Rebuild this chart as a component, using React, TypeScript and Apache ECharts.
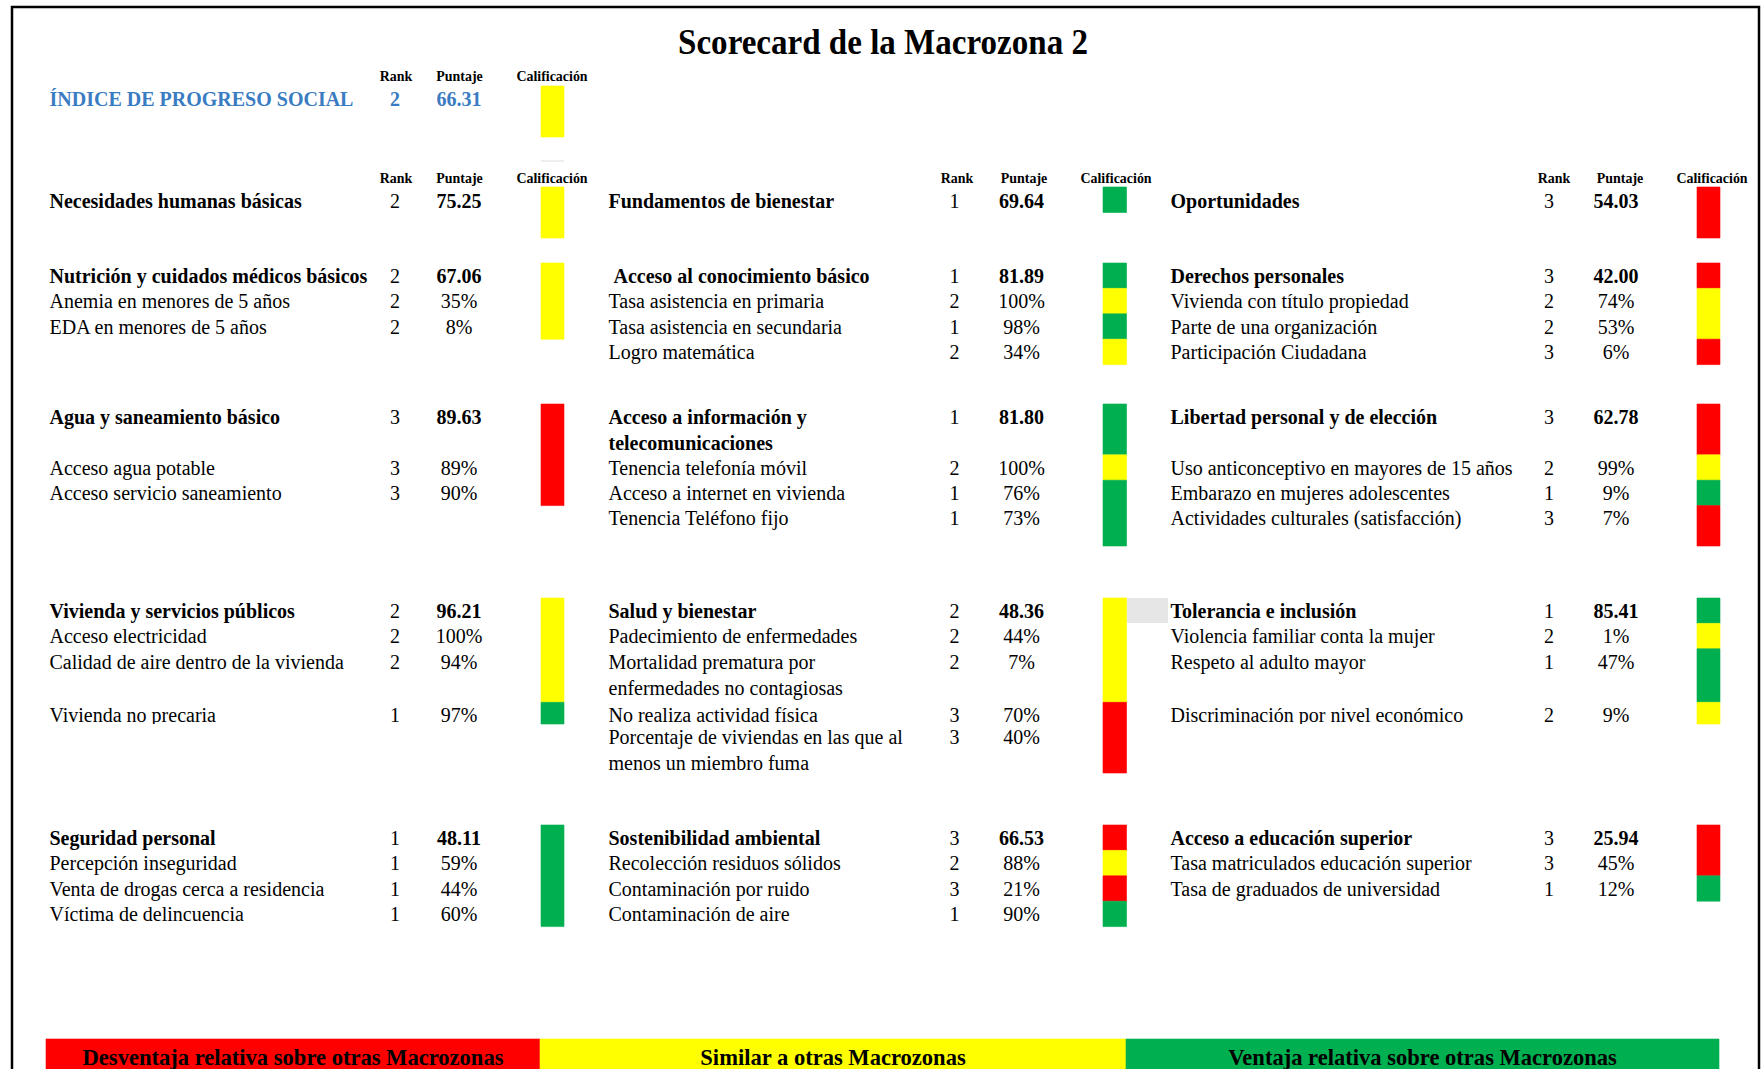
import React, { useEffect, useRef } from "react";
import * as echarts from "echarts";

// ---------------- DATA ----------------
const TITLE = "Scorecard de la Macrozona 2";
const HEADERS = ["Rank", "Puntaje", "Calificación"];
const LEGEND_LABELS = [
  "Desventaja relativa sobre otras Macrozonas",
  "Similar a otras Macrozonas",
  "Ventaja relativa sobre otras Macrozonas",
];
const LEGEND_RANKS = [3, 2, 1];

const IPS_LABEL = "ÍNDICE DE PROGRESO SOCIAL";
const IPS_RANK = 2;
const IPS_SCORE = "66.31";

const DIMENSIONS = ["Necesidades humanas básicas", "Fundamentos de bienestar", "Oportunidades"];
const DIMENSION_RANKS = [2, 1, 3];
const DIMENSION_SCORES = ["75.25", "69.64", "54.03"];

const COMPONENTS = [
  ["Nutrición y cuidados médicos básicos", "Agua y saneamiento básico", "Vivienda y servicios públicos", "Seguridad personal"],
  ["Acceso al conocimiento básico", "Acceso a información y\ntelecomunicaciones", "Salud y bienestar", "Sostenibilidad ambiental"],
  ["Derechos personales", "Libertad personal y de elección", "Tolerancia e inclusión", "Acceso a educación superior"],
];
const COMPONENT_RANKS = [
  [2, 3, 2, 1],
  [1, 1, 2, 3],
  [3, 3, 1, 3],
];
const COMPONENT_SCORES = [
  ["67.06", "89.63", "96.21", "48.11"],
  ["81.89", "81.80", "48.36", "66.53"],
  ["42.00", "62.78", "85.41", "25.94"],
];

const INDICATORS = [
  [
    ["Anemia en menores de 5 años", "EDA en menores de 5 años"],
    ["Acceso agua potable", "Acceso servicio saneamiento"],
    ["Acceso electricidad", "Calidad de aire dentro de la vivienda", "Vivienda no precaria"],
    ["Percepción inseguridad", "Venta de drogas cerca a residencia", "Víctima de delincuencia"],
  ],
  [
    ["Tasa asistencia en primaria", "Tasa asistencia en secundaria", "Logro matemática"],
    ["Tenencia telefonía móvil", "Acceso a internet en vivienda", "Tenencia Teléfono fijo"],
    [
      "Padecimiento de enfermedades",
      "Mortalidad prematura por\nenfermedades no contagiosas",
      "No realiza actividad física",
      "Porcentaje de viviendas en las que al\nmenos un miembro fuma",
    ],
    ["Recolección residuos sólidos", "Contaminación por ruido", "Contaminación de aire"],
  ],
  [
    ["Vivienda con título propiedad", "Parte de una organización", "Participación Ciudadana"],
    ["Uso anticonceptivo en mayores de 15 años", "Embarazo en mujeres adolescentes", "Actividades culturales (satisfacción)"],
    ["Violencia familiar conta la mujer", "Respeto al adulto mayor", "Discriminación por nivel económico"],
    ["Tasa matriculados educación superior", "Tasa de graduados de universidad"],
  ],
];
const INDICATOR_RANKS = [
  [[2, 2], [3, 3], [2, 2, 1], [1, 1, 1]],
  [[2, 1, 2], [2, 1, 1], [2, 2, 3, 3], [2, 3, 1]],
  [[2, 2, 3], [2, 1, 3], [2, 1, 2], [3, 1]],
];
const INDICATOR_VALUES = [
  [["35%", "8%"], ["89%", "90%"], ["100%", "94%", "97%"], ["59%", "44%", "60%"]],
  [["100%", "98%", "34%"], ["100%", "76%", "73%"], ["44%", "7%", "70%", "40%"], ["88%", "21%", "90%"]],
  [["74%", "53%", "6%"], ["99%", "9%", "7%"], ["1%", "47%", "9%"], ["45%", "12%"]],
];

// ---------------- LAYOUT / STYLE ----------------
const W = 1762;
const H = 1069;
const FONT = '"Liberation Serif", "Times New Roman", serif';
const RANK_COLORS: Record<number, string> = { 1: "#00B050", 2: "#FFFF00", 3: "#FF0000" };
const BLUE = "#3A7CC2";

const COLS = [
  { label: 49.5, rank: 395, score: 459, barX: 541, barW: 23, hRank: 396, hScore: 459.5, hCal: 552, indent: 0 },
  { label: 608.5, rank: 954.5, score: 1021.5, barX: 1103, barW: 23.5, hRank: 957, hScore: 1024, hCal: 1116, indent: 0 },
  { label: 1170.5, rank: 1549, score: 1616, barX: 1697, barW: 23, hRank: 1554, hScore: 1620, hCal: 1712, indent: 0 },
];
const BLOCK_TOP = [263, 404, 598, 825];
const ROW_H = [
  [[25.4, 25.4, 25.4], [50.8, 25.4, 25.4], [25.4, 25.4, 53.5, 21.7], [25.4, 25.4, 25.4, 25.4]],
  [[25.4, 25.4, 25.4, 25.4], [50.8, 25.4, 25.4, 40.4], [25.4, 25.4, 53.5, 21.7, 49], [25.4, 25.4, 25.4, 25.4]],
  [[25.4, 25.4, 25.4, 25.4], [50.8, 25.4, 25.4, 40.4], [25.4, 25.4, 53.5, 21.7], [25.4, 25.4, 25.4]],
];
const TEXT_DY = -0.3;
const DIM_BAR = { top: 187, heights: [51, 25.5, 51] };
const IPS_BAR = { x: 541, w: 23, top: 86, h: 51 };
const LEGEND_X = [46, 540, 1126, 1719];
const LEGEND_Y = [1039, 1069];

function buildOption() {
  const cells: number[][] = [];
  const g: any[] = [];

  // add a rating cell, merging it with the cell right above when same colour (avoids seams)
  const addCell = (x0: number, y0: number, x1: number, y1: number, rank: number) => {
    for (const c of cells) {
      if (c[0] === x0 && c[2] === x1 && c[4] === rank && Math.abs(c[3] - y0) < 0.01) {
        c[3] = y1;
        return;
      }
    }
    cells.push([x0, y0, x1, y1, rank]);
  };

  const txt = (
    text: string,
    x: number,
    y: number,
    o: { bold?: boolean; size?: number; color?: string; align?: string; va?: string; scaleX?: number } = {}
  ) => {
    g.push({
      type: "text",
      x,
      y,
      scaleX: o.scaleX ?? 1,
      silent: true,
      z: 10,
      style: {
        text,
        fill: o.color ?? "#000",
        fontFamily: FONT,
        fontSize: o.size ?? 20,
        fontWeight: o.bold ? "bold" : "normal",
        textAlign: o.align ?? "left",
        textVerticalAlign: o.va ?? "top",
        verticalAlign: o.va ?? "top",
        lineHeight: 26,
      },
    });
  };

  // border
  g.push({
    type: "rect",
    z: 1,
    silent: true,
    shape: { x: 12, y: 7, width: 1747, height: 1200 },
    style: { fill: "none", stroke: "#000", lineWidth: 2.5 },
  });

  // title
  txt(TITLE, 883, 41, { bold: true, size: 36, align: "center", va: "middle", scaleX: 0.918 });

  // header labels
  const header = (c: number, y: number) => {
    const col = COLS[c];
    txt(HEADERS[0], col.hRank, y, { bold: true, size: 15, align: "center", va: "middle", scaleX: 0.93 });
    txt(HEADERS[1], col.hScore, y, { bold: true, size: 15, align: "center", va: "middle", scaleX: 0.93 });
    txt(HEADERS[2], col.hCal, y, { bold: true, size: 15, align: "center", va: "middle", scaleX: 0.93 });
  };
  header(0, 75.5);
  for (let c = 0; c < 3; c++) header(c, 177.5);

  // IPS row
  txt(IPS_LABEL, COLS[0].label, 86, { bold: true, color: BLUE });
  txt(String(IPS_RANK), COLS[0].rank, 86, { bold: true, color: BLUE, align: "center" });
  txt(IPS_SCORE, COLS[0].score, 86, { bold: true, color: BLUE, align: "center" });
  addCell(IPS_BAR.x, IPS_BAR.top, IPS_BAR.x + IPS_BAR.w, IPS_BAR.top + IPS_BAR.h, IPS_RANK);

  // faint line under IPS cell
  g.push({
    type: "rect",
    silent: true,
    z: 1,
    shape: { x: 541, y: 160.5, width: 23, height: 1 },
    style: { fill: "#dcdcdc" },
  });

  // dimension rows
  for (let c = 0; c < 3; c++) {
    const col = COLS[c];
    txt(DIMENSIONS[c], col.label, 188, { bold: true });
    txt(String(DIMENSION_RANKS[c]), col.rank, 188, { align: "center" });
    txt(DIMENSION_SCORES[c], col.score, 188, { bold: true, align: "center" });
    addCell(col.barX, DIM_BAR.top, col.barX + col.barW, DIM_BAR.top + DIM_BAR.heights[c], DIMENSION_RANKS[c]);
  }

  // components and indicators
  for (let c = 0; c < 3; c++) {
    const col = COLS[c];
    for (let b = 0; b < 4; b++) {
      let top = BLOCK_TOP[b];
      const heights = ROW_H[c][b];
      const ty = top + TEXT_DY;
      txt(COMPONENTS[c][b], col.label + (c === 1 && b === 0 ? 5 : 0), ty, { bold: true });
      txt(String(COMPONENT_RANKS[c][b]), col.rank, ty, { align: "center" });
      txt(COMPONENT_SCORES[c][b], col.score, ty, { bold: true, align: "center" });
      addCell(col.barX, top, col.barX + col.barW, top + heights[0], COMPONENT_RANKS[c][b]);
      top += heights[0];
      const inds = INDICATORS[c][b];
      for (let i = 0; i < inds.length; i++) {
        const h = heights[i + 1];
        const iy = top + TEXT_DY;
        txt(inds[i], col.label, iy);
        txt(String(INDICATOR_RANKS[c][b][i]), col.rank, iy, { align: "center" });
        txt(INDICATOR_VALUES[c][b][i], col.score, iy, { align: "center" });
        addCell(col.barX, top, col.barX + col.barW, top + h, INDICATOR_RANKS[c][b][i]);
        top += h;
      }
    }
  }

  // clipped descenders of short rows (as in the spreadsheet)
  g.push({ type: "rect", silent: true, z: 20, shape: { x: 45, y: 724, width: 440, height: 4 }, style: { fill: "#fff" } });
  g.push({ type: "rect", silent: true, z: 20, shape: { x: 1166, y: 724, width: 520, height: 4 }, style: { fill: "#fff" } });

  // grey cell
  g.push({
    type: "rect",
    silent: true,
    z: 1,
    shape: { x: 1127, y: 598, width: 41, height: 25 },
    style: { fill: "#e6e6e6" },
  });

  // legend
  for (let i = 0; i < 3; i++) {
    cells.push([LEGEND_X[i], LEGEND_Y[0], LEGEND_X[i + 1], LEGEND_Y[1], LEGEND_RANKS[i]]);
    txt(LEGEND_LABELS[i], (LEGEND_X[i] + LEGEND_X[i + 1]) / 2, 1057, {
      bold: true,
      size: 24,
      align: "center",
      va: "middle",
      scaleX: 0.94,
    });
  }

  return {
    animation: false,
    backgroundColor: "#ffffff",
    grid: { left: 0, right: 0, top: 0, bottom: 0, containLabel: false },
    xAxis: { type: "value", min: 0, max: W, show: false },
    yAxis: { type: "value", min: 0, max: H, inverse: true, show: false },
    series: [
      {
        type: "custom",
        silent: true,
        z: 5,
        encode: { x: [0, 2], y: [1, 3] },
        data: cells,
        clip: false,
        renderItem: (_params: any, api: any) => {
          const p0 = api.coord([api.value(0), api.value(1)]);
          const p1 = api.coord([api.value(2), api.value(3)]);
          const fill = RANK_COLORS[api.value(4)];
          return {
            type: "rect",
            shape: { x: p0[0], y: p0[1], width: p1[0] - p0[0], height: p1[1] - p0[1] },
            style: { fill, stroke: fill, lineWidth: 0.6 },
          };
        },
      },
    ],
    graphic: g,
  };
}

export default function App() {
  const ref = useRef<HTMLDivElement>(null);
  useEffect(() => {
    document.body.style.margin = "0";
    const chart = echarts.init(ref.current!, null, { renderer: "svg" });
    chart.setOption(buildOption() as any);
    return () => chart.dispose();
  }, []);
  return <div ref={ref} style={{ width: W, height: H, background: "#fff" }} />;
}
